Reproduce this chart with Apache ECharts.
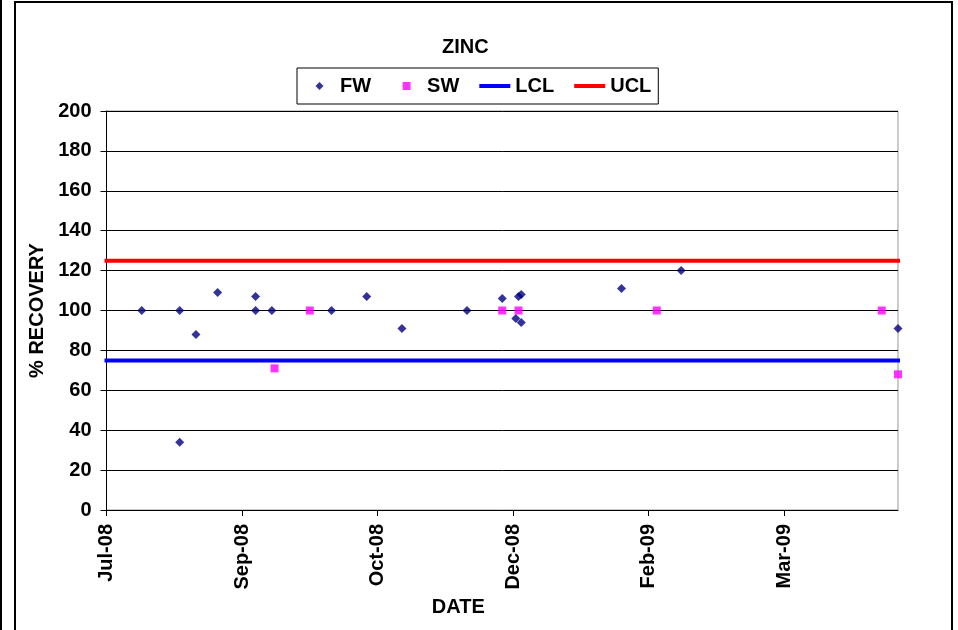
<!DOCTYPE html>
<html>
<head>
<meta charset="utf-8">
<title>ZINC</title>
<script src="https://cdn.jsdelivr.net/npm/echarts@6/dist/echarts.min.js"></script>
<style>
  html, body { margin: 0; padding: 0; background: #fff; }
  #chart { width: 958px; height: 630px; }
</style>
</head>
<body>
<div id="chart"></div>
<script>
// Sample dates and % recovery values
const fwDates  = ['2008-08-03','2008-08-17','2008-08-17','2008-08-23','2008-08-31','2008-09-14','2008-09-14','2008-09-20',
                  '2008-10-12','2008-10-25','2008-11-07','2008-12-01','2008-12-14','2008-12-19','2008-12-20','2008-12-21',
                  '2008-12-21','2009-01-27','2009-02-18','2009-05-09'];
const fwValues = [100, 100, 34, 88, 109, 107, 100, 100,
                  100, 107, 91, 100, 106, 96, 107, 108,
                  94, 111, 120, 91];

const swDates  = ['2008-09-21','2008-10-04','2008-12-14','2008-12-20','2009-02-09','2009-05-03','2009-05-09'];
const swValues = [71, 100, 100, 100, 100, 100, 68];

// Control limits
const limitDates = ['2008-07-21', '2009-05-09'];
const lclValue = 75;
const uclValue = 125;

// Axis settings (dates counted as spreadsheet day serials)
const xStartDate = '2008-07-21';
const xEndDate = '2009-05-09';
const xStepDays = 50;
const yTicks = [0, 20, 40, 60, 80, 100, 120, 140, 160, 180, 200];

const MONTHS = ['Jan','Feb','Mar','Apr','May','Jun','Jul','Aug','Sep','Oct','Nov','Dec'];
const EPOCH = Date.UTC(1899, 11, 30);
function toSerial(d) {
  const p = d.split('-').map(Number);
  return Math.round((Date.UTC(p[0], p[1] - 1, p[2]) - EPOCH) / 864e5);
}
function serialLabel(s) {
  const dt = new Date(EPOCH + s * 864e5);
  return MONTHS[dt.getUTCMonth()] + '-' + String(dt.getUTCFullYear() % 100).padStart(2, '0');
}

// Legend icons: a 31x8 box (two zero-area corner anchors) holding the glyph,
// so the icon is not stretched to the legend item box.
const BOX = 'M0,0L0,0ZM31,8L31,8Z';
const ICON_DIAMOND = 'path://' + BOX + 'M15.5,0L19.5,4L15.5,8L11.5,4Z';
const ICON_SQUARE  = 'path://' + BOX + 'M11.5,0H19.5V8H11.5Z';
const ICON_LINE    = 'path://' + BOX + 'M0,2H31V6H0Z';

const FONT = 'Arial, "Liberation Sans", sans-serif';
const chart = echarts.init(document.getElementById('chart'), null, { renderer: 'canvas' });

const pairs = (dates, vals) => dates.map((d, i) => [toSerial(d), vals[i]]);

chart.setOption({
  backgroundColor: '#fff',
  animation: false,
  textStyle: { fontFamily: FONT },
  graphic: [
    { type: 'line', shape: { x1: 1, y1: 0, x2: 1, y2: 630 }, style: { stroke: '#000', lineWidth: 2 } },
    { type: 'rect', shape: { x: 15, y: 2, width: 937, height: 660 }, style: { fill: 'none', stroke: '#000', lineWidth: 2 } }
  ],
  title: {
    text: 'ZINC',
    left: 442,
    top: 37,
    padding: 0,
    textStyle: { fontFamily: FONT, fontSize: 20, fontWeight: 'bold', color: '#000' }
  },
  legend: {
    left: 297,
    top: 68,
    padding: [8, 7],
    itemGap: 20,
    itemWidth: 31,
    itemHeight: 8,
    borderColor: '#000',
    borderWidth: 1,
    textStyle: { fontFamily: FONT, fontSize: 20, fontWeight: 'bold', color: '#000' },
    data: [
      { name: 'FW', icon: ICON_DIAMOND },
      { name: 'SW', icon: ICON_SQUARE },
      { name: 'LCL', icon: ICON_LINE },
      { name: 'UCL', icon: ICON_LINE }
    ]
  },
  grid: {
    left: 106.5, right: 60, top: 111, bottom: 120,
    show: true, borderColor: '#999', borderWidth: 1
  },
  xAxis: {
    type: 'value',
    min: toSerial(xStartDate),
    max: toSerial(xEndDate),
    interval: xStepDays,
    name: 'DATE',
    nameLocation: 'middle',
    nameGap: 86,
    nameTextStyle: { fontFamily: FONT, fontSize: 20, fontWeight: 'bold', color: '#000', padding: [0, 88, 0, 0] },
    axisLine: { show: true, lineStyle: { color: '#000', width: 1 } },
    axisTick: { show: true, length: 6, lineStyle: { color: '#000' } },
    axisLabel: {
      rotate: 90,
      margin: 14,
      showMaxLabel: false,
      fontFamily: FONT, fontSize: 20, fontWeight: 'bold', color: '#000',
      formatter: v => serialLabel(v)
    },
    splitLine: { show: false }
  },
  yAxis: {
    type: 'value',
    min: yTicks[0],
    max: yTicks[yTicks.length - 1],
    interval: yTicks[1] - yTicks[0],
    name: '% RECOVERY',
    nameLocation: 'middle',
    nameGap: 58,
    nameTextStyle: { fontFamily: FONT, fontSize: 20, fontWeight: 'bold', color: '#000' },
    axisLine: { show: true, lineStyle: { color: '#000', width: 1 } },
    axisTick: { show: true, length: 6, lineStyle: { color: '#000' } },
    axisLabel: { margin: 15, fontFamily: FONT, fontSize: 20, fontWeight: 'bold', color: '#000' },
    splitLine: { show: true, lineStyle: { color: '#000', width: 1 } }
  },
  series: [
    {
      name: 'FW', type: 'scatter', symbol: 'diamond', symbolSize: 9,
      itemStyle: { color: '#000080' },
      data: pairs(fwDates, fwValues), z: 3
    },
    {
      name: 'SW', type: 'scatter', symbol: 'rect', symbolSize: 8,
      itemStyle: { color: '#FF00FF' },
      data: pairs(swDates, swValues), z: 3
    },
    {
      name: 'LCL', type: 'line', showSymbol: false, symbol: 'none', clip: false,
      itemStyle: { color: '#0000FF' },
      lineStyle: { color: '#0000FF', width: 4, cap: 'square' },
      data: limitDates.map(d => [toSerial(d), lclValue]), z: 2
    },
    {
      name: 'UCL', type: 'line', showSymbol: false, symbol: 'none', clip: false,
      itemStyle: { color: '#FF0000' },
      lineStyle: { color: '#FF0000', width: 4, cap: 'square' },
      data: limitDates.map(d => [toSerial(d), uclValue]), z: 2
    }
  ]
});
</script>
</body>
</html>
